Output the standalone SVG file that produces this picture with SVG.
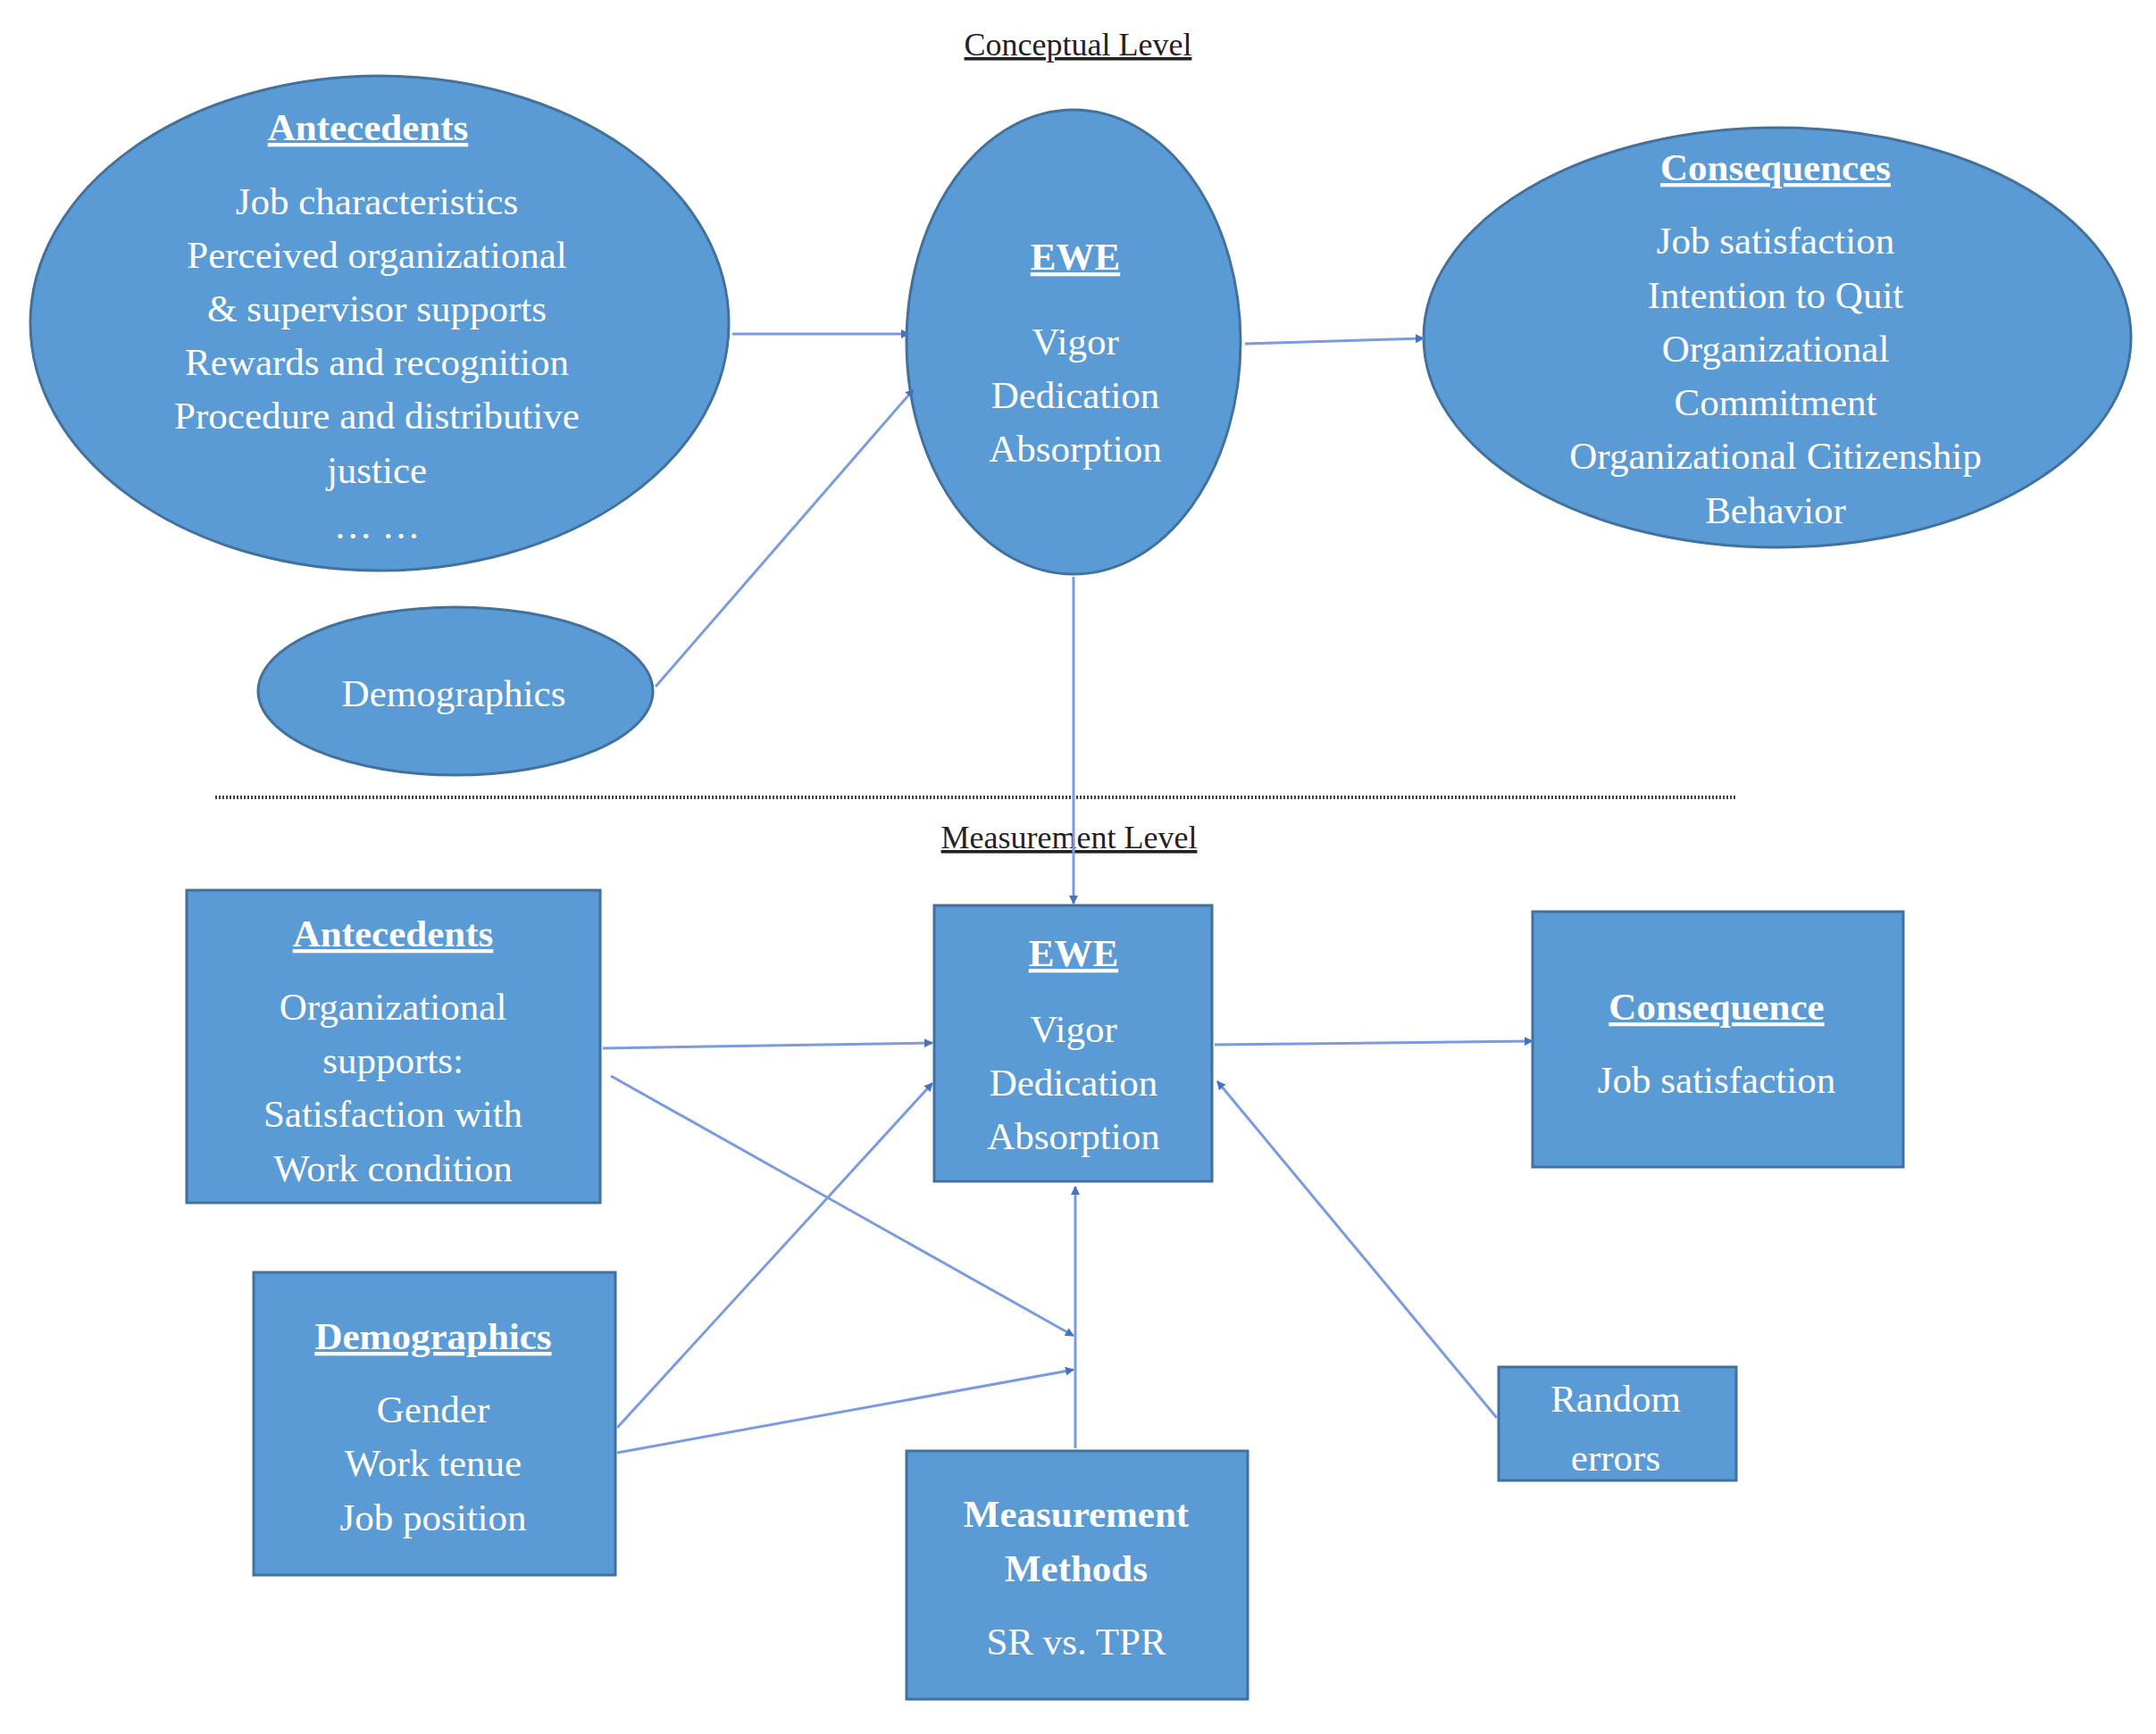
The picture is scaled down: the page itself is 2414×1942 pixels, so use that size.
<svg xmlns="http://www.w3.org/2000/svg" width="2414" height="1942" viewBox="0 0 2414 1942">
<style>
.n{fill:#5b9bd5;stroke:#41719c;stroke-width:3}
.t{font-family:"Liberation Serif",serif;font-size:43px;fill:#fff;text-anchor:middle}
.b{font-weight:bold;text-decoration:underline}
.h{font-family:"Liberation Serif",serif;font-size:36px;fill:#222;text-anchor:middle;text-decoration:underline}
.c{stroke:#7b9be0;stroke-width:3;fill:none;marker-end:url(#a)}
</style>
<defs><marker id="a" markerWidth="10" markerHeight="10" refX="9" refY="5" orient="auto" markerUnits="userSpaceOnUse" viewBox="0 0 10 10"><path d="M0,0L10,5L0,10z" fill="#4472c4"/></marker></defs>
<rect width="2414" height="1942" fill="#fff"/>
<text class="h" x="1207" y="62">Conceptual Level</text>
<line x1="241" y1="893" x2="1944" y2="893" stroke="#444" stroke-width="4" stroke-dasharray="2,2"/>
<text class="h" x="1197" y="950">Measurement Level</text>
<g id="ant1"><ellipse class="n" cx="425" cy="362" rx="391" ry="277"/>
<text class="t" x="412"><tspan class="b" x="412" y="157">Antecedents</tspan><tspan x="422" y="240">Job characteristics</tspan><tspan x="422" y="300">Perceived organizational</tspan><tspan x="422" y="360">&amp; supervisor supports</tspan><tspan x="422" y="420">Rewards and recognition</tspan><tspan x="422" y="480">Procedure and distributive</tspan><tspan x="422" y="541">justice</tspan><tspan x="422" y="603">… …</tspan></text></g>
<g id="ewe1"><ellipse class="n" cx="1202" cy="383" rx="187" ry="260"/>
<text class="t"><tspan class="b" x="1204" y="302">EWE</tspan><tspan x="1204" y="397">Vigor</tspan><tspan x="1204" y="457">Dedication</tspan><tspan x="1204" y="517">Absorption</tspan></text></g>
<g id="con1"><ellipse class="n" cx="1990" cy="378" rx="396" ry="235"/>
<text class="t"><tspan class="b" x="1988" y="202">Consequences</tspan><tspan x="1988" y="284">Job satisfaction</tspan><tspan x="1988" y="345">Intention to Quit</tspan><tspan x="1988" y="405">Organizational</tspan><tspan x="1988" y="465">Commitment</tspan><tspan x="1988" y="525">Organizational Citizenship</tspan><tspan x="1988" y="586">Behavior</tspan></text></g>
<g id="dem1"><ellipse class="n" cx="510" cy="774" rx="221" ry="94"/>
<text class="t" x="508" y="791">Demographics</text></g>
<g id="ant2"><rect class="n" x="209" y="997" width="463" height="350"/>
<text class="t"><tspan class="b" x="440" y="1060">Antecedents</tspan><tspan x="440" y="1142">Organizational</tspan><tspan x="440" y="1202">supports:</tspan><tspan x="440" y="1262">Satisfaction with</tspan><tspan x="440" y="1323">Work condition</tspan></text></g>
<g id="ewe2"><rect class="n" x="1046" y="1014" width="311" height="309"/>
<text class="t"><tspan class="b" x="1202" y="1082">EWE</tspan><tspan x="1202" y="1167">Vigor</tspan><tspan x="1202" y="1227">Dedication</tspan><tspan x="1202" y="1287">Absorption</tspan></text></g>
<g id="con2"><rect class="n" x="1716" y="1021" width="415" height="286"/>
<text class="t"><tspan class="b" x="1922" y="1142">Consequence</tspan><tspan x="1922" y="1224">Job satisfaction</tspan></text></g>
<g id="dem2"><rect class="n" x="284" y="1425" width="405" height="339"/>
<text class="t"><tspan class="b" x="485" y="1511">Demographics</tspan><tspan x="485" y="1593">Gender</tspan><tspan x="485" y="1653">Work tenue</tspan><tspan x="485" y="1714">Job position</tspan></text></g>
<g id="mm"><rect class="n" x="1015" y="1625" width="382" height="278"/>
<text class="t" font-weight="bold"><tspan x="1205" y="1710">Measurement</tspan><tspan x="1205" y="1771">Methods</tspan></text>
<text class="t" x="1205" y="1853">SR vs. TPR</text></g>
<g id="re"><rect class="n" x="1678" y="1531" width="266" height="127"/>
<text class="t"><tspan x="1809" y="1581">Random</tspan><tspan x="1809" y="1647">errors</tspan></text></g>
<g id="connectors">
<line class="c" x1="820" y1="374" x2="1018" y2="374"/>
<line class="c" x1="734" y1="769" x2="1023" y2="436"/>
<line class="c" x1="1394" y1="385" x2="1594" y2="379"/>
<line class="c" x1="1202" y1="646" x2="1202" y2="1012"/>
<line class="c" x1="675" y1="1174" x2="1044" y2="1168"/>
<line class="c" x1="684" y1="1205" x2="1202" y2="1496"/>
<line class="c" x1="691" y1="1599" x2="1044" y2="1213"/>
<line class="c" x1="691" y1="1627" x2="1202" y2="1534"/>
<line class="c" x1="1204" y1="1622" x2="1204" y2="1329"/>
<line class="c" x1="1360" y1="1170" x2="1716" y2="1166"/>
<line class="c" x1="1676" y1="1588" x2="1363" y2="1211"/>
</g>
</svg>
